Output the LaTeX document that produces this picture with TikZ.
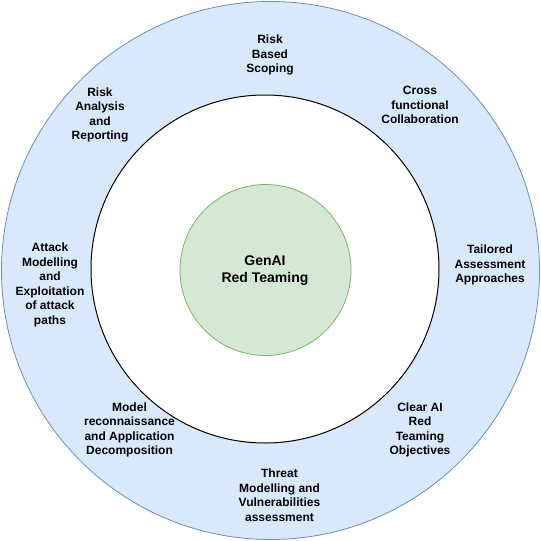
\documentclass[tikz,border=0pt]{standalone}
\usepackage{fontspec}
\setmainfont{Liberation Sans}
\definecolor{bluefill}{HTML}{DAE8FC}
\definecolor{bluedraw}{HTML}{6C8EBF}
\definecolor{greenfill}{HTML}{D5E8D4}
\definecolor{greendraw}{HTML}{82B366}
\begin{document}
\begin{tikzpicture}[x=1pt,y=-1pt,
  lbl/.style={align=center,font=\fontsize{12}{14.5}\selectfont\bfseries,inner sep=0pt},
  ring/.style={circle,inner sep=0pt}]
\useasboundingbox (0,0) rectangle (541,541);
\node[ring,draw=bluedraw,fill=bluefill,line width=0.8pt,minimum size=538pt] (outer) at (270.5,270.5) {};
\node[ring,draw=black,fill=white,line width=1pt,minimum size=348pt] (inner) at (265,269) {};
\node[ring,draw=greendraw,fill=greenfill,line width=0.8pt,minimum size=171pt] (core) at (265.5,270) {};
\node[lbl,font=\fontsize{14}{16.5}\selectfont\bfseries] (center) at (265,270.5) {GenAI\\Red Teaming};
\node[lbl] (scope) at (270,55) {Risk\\Based\\Scoping};
\node[lbl] (report) at (100,115) {Risk\\Analysis\\and\\Reporting};
\node[lbl] (cross) at (420,105) {Cross\\functional\\Collaboration};
\node[lbl] (tailor) at (490,265) {Tailored\\Assessment\\Approaches};
\node[lbl] (attack) at (50,285) {Attack\\Modelling\\and\\Exploitation\\of attack\\paths};
\node[lbl] (recon) at (129.5,430) {Model\\reconnaissance\\and Application\\Decomposition};
\node[lbl] (clear) at (420,430) {Clear AI\\Red\\Teaming\\Objectives};
\node[lbl] (threat) at (279.5,495) {Threat\\Modelling and\\Vulnerabilities\\assessment};
\end{tikzpicture}
\end{document}
